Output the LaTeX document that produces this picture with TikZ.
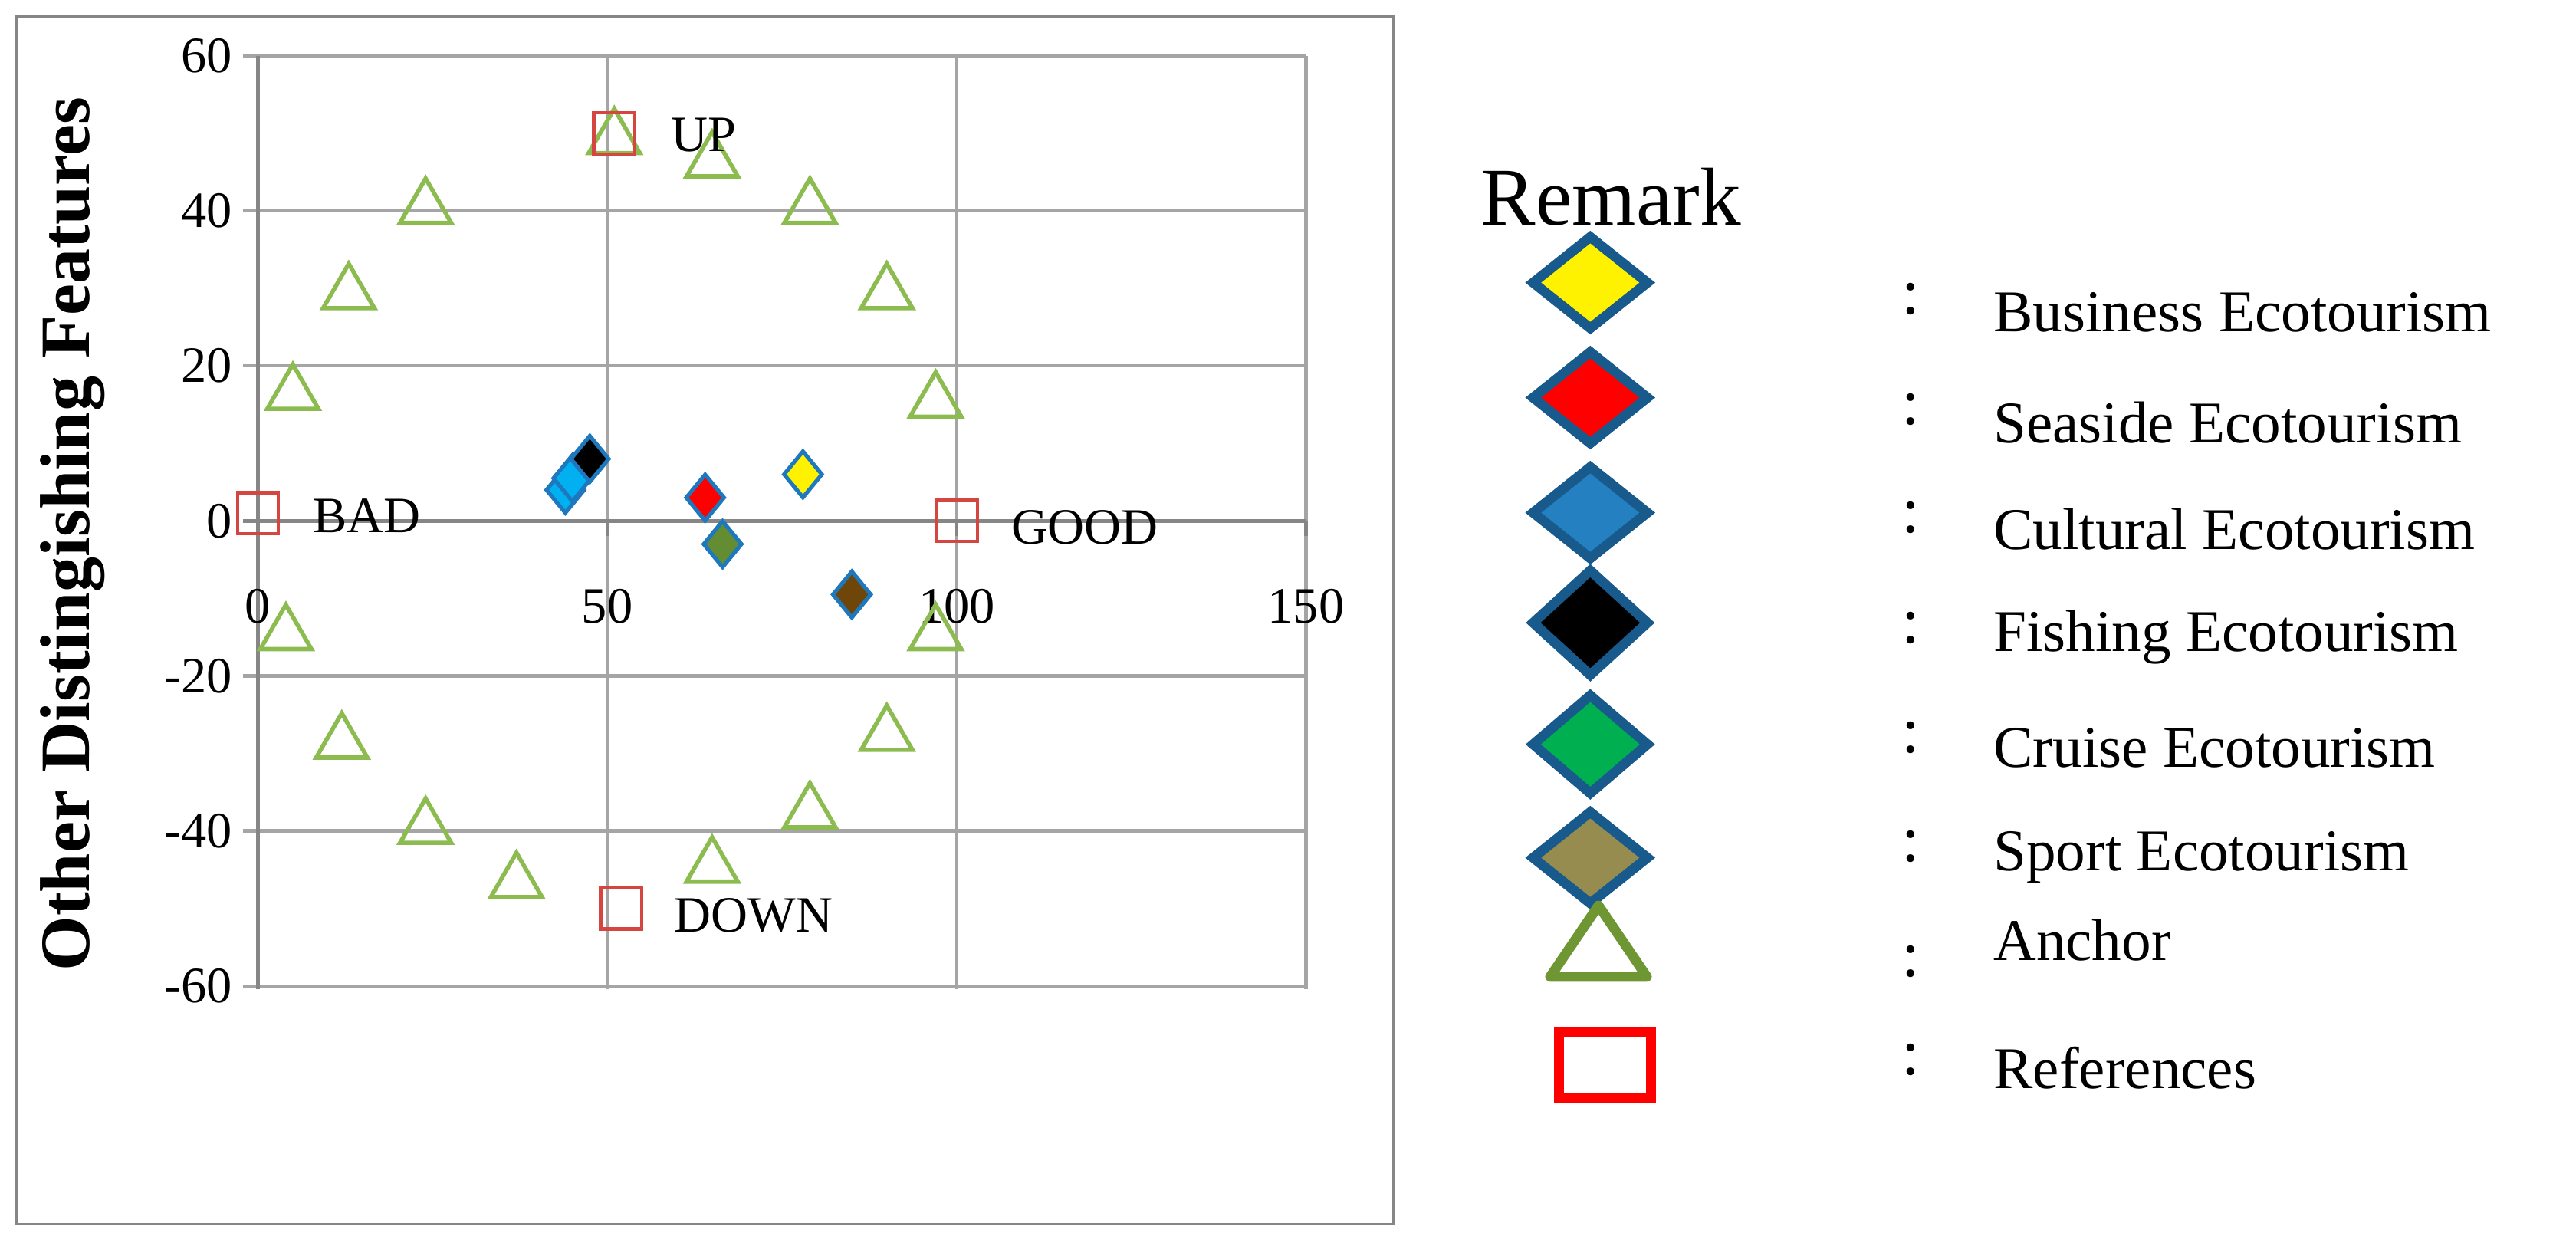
\documentclass[tikz,border=0pt]{standalone}
\usepackage{fontspec}
\setmainfont{Liberation Serif}
\usetikzlibrary{shapes.geometric}
\definecolor{gridc}{RGB}{165,165,165}
\definecolor{axc}{RGB}{134,134,134}
\definecolor{trig}{RGB}{140,187,80}
\definecolor{sqr}{RGB}{214,70,64}
\definecolor{dia}{RGB}{30,120,190}
\definecolor{ldia}{RGB}{25,90,140}
\definecolor{ltri}{RGB}{110,150,50}
\definecolor{lblue}{RGB}{36,128,192}
\definecolor{skyb}{RGB}{0,176,240}
\definecolor{olive}{RGB}{100,140,50}
\definecolor{brn}{RGB}{110,70,10}
\definecolor{sandc}{RGB}{150,140,80}
\definecolor{cgreen}{RGB}{0,176,80}
\tikzset{
 tri/.style={draw=trig,line width=2.6pt,regular polygon,regular polygon sides=3,minimum size=36pt,inner sep=0pt},
 sq/.style={draw=sqr,line width=2pt,minimum size=25pt,inner sep=0pt},
 pt/.style={draw=dia,line width=2.4pt,diamond,minimum width=24pt,minimum height=29pt,inner sep=0pt},
 ldi/.style={draw=ldia,line width=6pt,diamond,minimum width=72pt,minimum height=58pt,inner sep=0pt},
 tick/.style={font=\fontsize{31}{31}\selectfont},
 lbl/.style={font=\fontsize{31}{31}\selectfont,anchor=west},
 leg/.style={font=\fontsize{36}{36}\selectfont,anchor=west},
}
\newcommand{\PX}[1]{157+4.2533*(#1)}
\newcommand{\PY}[1]{317-4.7167*(#1)}
\begin{document}
\begin{tikzpicture}[x=1pt,y=-1pt]
\useasboundingbox (0,0) rectangle (1568,764);
\draw[axc,line width=1.5pt] (10,10) rectangle (848,745);
% grid
\foreach \v in {60,40,20,-20,-40,-60}
  \draw[gridc,line width=2pt] (148,{\PY{\v}}) -- (795,{\PY{\v}});
\foreach \v in {50,100,150}
  \draw[gridc,line width=2pt] ({\PX{\v}},34) -- ({\PX{\v}},602);
\draw[axc,line width=2.4pt] (157,34) -- (157,602);
\draw[axc,line width=2.4pt] (148,317) -- (795,317);
\foreach \v in {0,50,100,150}
  \draw[axc,line width=2pt] ({\PX{\v}},317) -- ({\PX{\v}},326);
\foreach \v/\n in {60/a,40/b,20/c,0/d,-20/e,-40/f,-60/g}
  \node[tick,anchor=east] (yt\n) at (145,{\PY{\v}}) {\v};
\foreach \v/\n in {0/a,50/b,100/c,150/d}
  \node[tick] (xt\n) at ({\PX{\v}},369) {\v};
\node[rotate=90,font=\bfseries\fontsize{43}{43}\selectfont] (ytitle) at (44,325) {Other Distingishing Features};
% anchors
\foreach \x/\y [count=\i] in {51/50,65/47,24/41,79/41,13/30,90/30,5/17,97/16,4/-14,97/-14,12/-28,90/-27,24/-39,79/-37,37/-46,65/-44}
  \node[tri] (t\i) at ({\PX{\x}},{\PY{\y}+3}) {};
% references
\node[sq] (up) at ({\PX{51}},{\PY{50}}) {};
\node[sq] (bad) at ({\PX{0}},{\PY{1}}) {};
\node[sq] (good) at ({\PX{100}},{\PY{0}}) {};
\node[sq] (down) at ({\PX{52}},{\PY{-50}}) {};
\node[lbl] (uplbl) at (405,82) {UP};
\node[lbl] (badlbl) at (187,314) {BAD};
\node[lbl] (goodlbl) at (612,321) {GOOD};
\node[lbl] (downlbl) at (407,557) {DOWN};
% data points
\node[pt,fill=skyb] (p1) at ({\PX{44}},{\PY{4}}) {};
\node[pt,fill=skyb] (p2) at ({\PX{45}},{\PY{5.5}}) {};
\node[pt,fill=black] (p3) at ({\PX{47.5}},{\PY{8}}) {};
\node[pt,fill=red] (p4) at ({\PX{64}},{\PY{3}}) {};
\node[pt,fill=yellow] (p5) at ({\PX{78}},{\PY{6}}) {};
\node[pt,fill=olive] (p6) at ({\PX{66.5}},{\PY{-3}}) {};
\node[pt,fill=brn] (p7) at ({\PX{85}},{\PY{-9.5}}) {};
% legend
\node[font=\fontsize{50}{50}\selectfont,anchor=west] (rem) at (898,120) {Remark};
\node[ldi,fill=yellow] (l1) at (968,172) {};
\node[ldi,fill=red] (l2) at (968,242) {};
\node[ldi,fill=lblue] (l3) at (968,312) {};
\node[ldi,fill=black,minimum height=66pt] (l4) at (968,379) {};
\node[ldi,fill=cgreen,minimum height=62pt] (l5) at (968,453) {};
\node[ldi,fill=sandc] (l6) at (968,522) {};
\node[draw=ltri,line width=6pt,line join=round,regular polygon,regular polygon sides=3,minimum size=68pt,inner sep=0pt,yscale=0.85] (l7) at (973,580) {};
\node[draw=red,line width=6pt,minimum width=56pt,minimum height=40pt,inner sep=0pt] (l8) at (977,648) {};
\foreach \y/\t [count=\i] in {190/Business Ecotourism,257/Seaside Ecotourism,322/Cultural Ecotourism,388/Fishing Ecotourism,455/Cruise Ecotourism,522/Sport Ecotourism,572/Anchor,650/References}
  \node[leg] (lt\i) at (1210,\y) {\t};
\foreach \y [count=\i] in {182,249,315,382,449,515,585,645}
  \node[font=\fontsize{40}{40}\selectfont] (c\i) at (1163,\y) {:};
\end{tikzpicture}
\end{document}
